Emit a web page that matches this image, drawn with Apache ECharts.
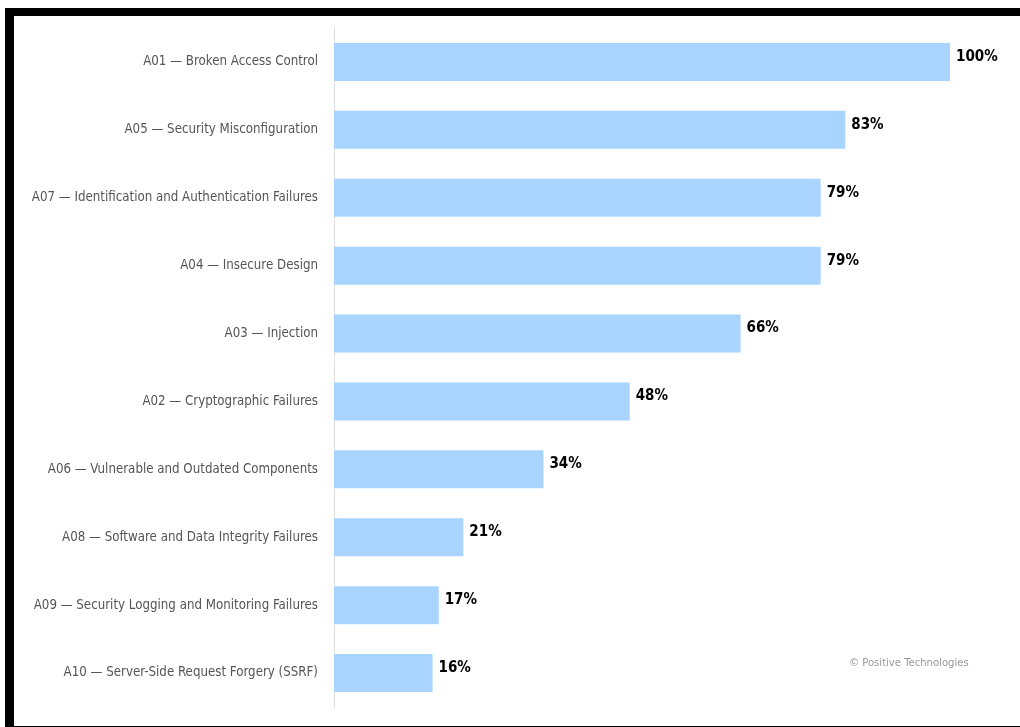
<!DOCTYPE html>
<html>
<head>
<meta charset="utf-8">
<script src="https://cdn.jsdelivr.net/npm/echarts@6/dist/echarts.min.js"></script>
<style>
html,body{margin:0;padding:0;background:#fff;}
#chart{width:1020px;height:727px;}
</style>
</head>
<body>
<div id="chart"></div>
<script>
const categories = [
  "A01 — Broken Access Control",
  "A05 — Security Misconfiguration",
  "A07 — Identification and Authentication Failures",
  "A04 — Insecure Design",
  "A03 — Injection",
  "A02 — Cryptographic Failures",
  "A06 — Vulnerable and Outdated Components",
  "A08 — Software and Data Integrity Failures",
  "A09 — Security Logging and Monitoring Failures",
  "A10 — Server-Side Request Forgery (SSRF)"
];
const values = [100, 83, 79, 79, 66, 48, 34, 21, 17, 16];
const watermark = "© Positive Technologies";

const chart = echarts.init(document.getElementById('chart'));
chart.setOption({
  animation: false,
  backgroundColor: '#fff',
  grid: { left: 334, right: 70, top: 28, bottom: 20, containLabel: false },
  xAxis: {
    type: 'value', min: 0, max: 100,
    axisLine: { show: false }, axisTick: { show: false },
    axisLabel: { show: false }, splitLine: { show: false }
  },
  yAxis: {
    type: 'category', inverse: true, data: categories,
    axisLine: { show: true, lineStyle: { color: '#dddddd', width: 1 } },
    axisTick: { show: false },
    axisLabel: { margin: 16, color: '#555', fontSize: 13.2, fontFamily: 'DejaVu Sans Condensed' }
  },
  series: [{
    type: 'bar', data: values, barWidth: 38,
    itemStyle: { color: '#a8d4ff' },
    label: {
      show: true, position: 'right', distance: 6, offset: [0, -5],
      formatter: '{c}%', color: '#000', fontSize: 15, fontWeight: 'bold',
      fontFamily: 'DejaVu Sans Condensed'
    }
  }],
  graphic: [
    { type: 'rect', shape: { x: 5, y: 8, width: 1015, height: 8 }, style: { fill: '#000' } },
    { type: 'rect', shape: { x: 5, y: 8, width: 9, height: 719 }, style: { fill: '#000' } },
    { type: 'rect', shape: { x: 5, y: 726, width: 1015, height: 1 }, style: { fill: '#000' } },
    { type: 'text', x: 849, y: 658, style: { text: watermark, fill: '#999', fontSize: 11.2, fontFamily: 'DejaVu Sans Condensed' } }
  ]
});
</script>
</body>
</html>
